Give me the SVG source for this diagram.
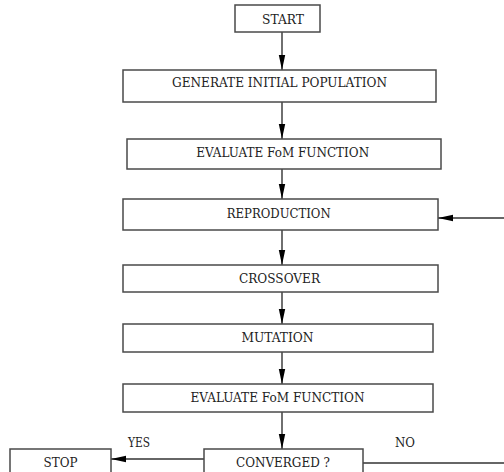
<svg xmlns="http://www.w3.org/2000/svg" width="504" height="472" viewBox="0 0 504 472">
<style>
.box{fill:#fff;stroke:#4a4a4a;stroke-width:1.5}
.lbl{font-family:"DejaVu Serif","Liberation Serif",serif;font-size:13px;fill:#222;text-anchor:middle}
.edge{fill:none;stroke:#333;stroke-width:1.4}
.ann{font-family:"DejaVu Serif","Liberation Serif",serif;font-size:12px;fill:#222}
</style>
<defs>
<marker id="ah" markerUnits="userSpaceOnUse" markerWidth="16" markerHeight="8" refX="15" refY="4" orient="auto">
<path d="M0,0.8 L15,4 L0,7.2 z" fill="#000"/>
</marker>
</defs>
<rect width="504" height="472" fill="#fff"/>
<g id="connectors">
<line class="edge" x1="282" y1="32" x2="282" y2="70" marker-end="url(#ah)"/>
<line class="edge" x1="282" y1="102" x2="282" y2="139" marker-end="url(#ah)"/>
<line class="edge" x1="282" y1="169" x2="282" y2="199" marker-end="url(#ah)"/>
<line class="edge" x1="282" y1="230" x2="282" y2="265" marker-end="url(#ah)"/>
<line class="edge" x1="282" y1="292" x2="282" y2="324" marker-end="url(#ah)"/>
<line class="edge" x1="282" y1="352" x2="282" y2="384" marker-end="url(#ah)"/>
<line class="edge" x1="282" y1="412" x2="282" y2="449" marker-end="url(#ah)"/>
<line class="edge" x1="204" y1="459" x2="111" y2="459" marker-end="url(#ah)"/>
<line class="edge" x1="363" y1="463" x2="504" y2="463"/>
<line class="edge" x1="504" y1="218" x2="438" y2="218" marker-end="url(#ah)"/>
<text class="ann" x="128" y="447" textLength="22" lengthAdjust="spacingAndGlyphs">YES</text>
<text class="ann" x="395" y="447" textLength="20" lengthAdjust="spacingAndGlyphs">NO</text>
</g>
<g id="start"><rect class="box" x="235" y="5" width="85" height="27"/><text class="lbl" x="283" y="24" textLength="42" lengthAdjust="spacingAndGlyphs">START</text></g>
<g id="generate"><rect class="box" x="123" y="70" width="313" height="32"/><text class="lbl" x="279.5" y="87" textLength="215" lengthAdjust="spacingAndGlyphs">GENERATE INITIAL POPULATION</text></g>
<g id="evaluate1"><rect class="box" x="127" y="139" width="314" height="30"/><text class="lbl" x="282.7" y="157" textLength="173" lengthAdjust="spacingAndGlyphs">EVALUATE FoM FUNCTION</text></g>
<g id="reproduction"><rect class="box" x="123" y="199" width="315" height="31"/><text class="lbl" x="278.7" y="217.5" textLength="104" lengthAdjust="spacingAndGlyphs">REPRODUCTION</text></g>
<g id="crossover"><rect class="box" x="123" y="265" width="315" height="27"/><text class="lbl" x="279.5" y="282.5" textLength="81" lengthAdjust="spacingAndGlyphs">CROSSOVER</text></g>
<g id="mutation"><rect class="box" x="123" y="324" width="310" height="28"/><text class="lbl" x="277.5" y="342" textLength="72" lengthAdjust="spacingAndGlyphs">MUTATION</text></g>
<g id="evaluate2"><rect class="box" x="123" y="384" width="310" height="28"/><text class="lbl" x="277.5" y="402" textLength="174" lengthAdjust="spacingAndGlyphs">EVALUATE FoM FUNCTION</text></g>
<g id="converged"><rect class="box" x="204" y="449" width="159" height="32"/><text class="lbl" x="283" y="467" textLength="94" lengthAdjust="spacingAndGlyphs">CONVERGED ?</text></g>
<g id="stop"><rect class="box" x="10" y="449" width="101" height="32"/><text class="lbl" x="60.5" y="467" textLength="34" lengthAdjust="spacingAndGlyphs">STOP</text></g>
</svg>
